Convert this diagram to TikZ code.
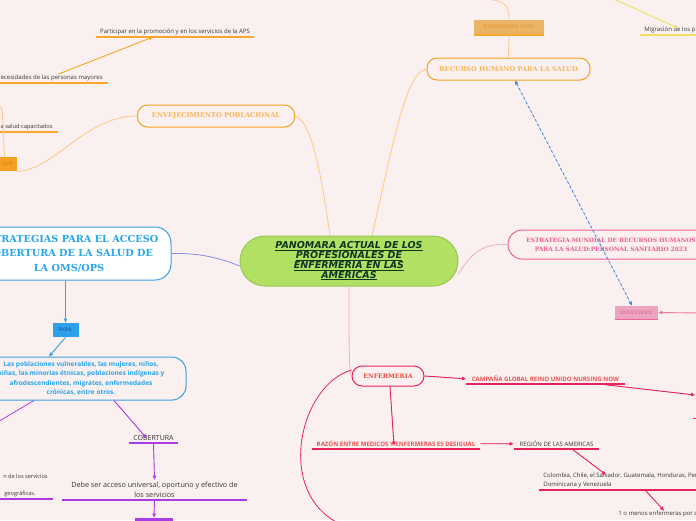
\documentclass[tikz,border=0pt]{standalone}
\usepackage{fontspec}
\setmainfont{Open Sans}
\newfontfamily\slabfont{DejaVu Serif}
\newfontfamily\headfont{DejaVu Sans}
\usetikzlibrary{arrows.meta}

\definecolor{bgc}{RGB}{250,240,240}
\definecolor{mainfill}{RGB}{178,224,98}
\definecolor{mainbd}{RGB}{150,200,85}
\definecolor{maintxt}{RGB}{12,55,30}
\definecolor{orbd}{RGB}{247,160,30}
\definecolor{ortxt}{RGB}{250,182,85}
\definecolor{orline}{RGB}{247,168,45}
\definecolor{orlight}{RGB}{255,200,135}
\definecolor{orfill}{RGB}{245,160,35}
\definecolor{ortag}{RGB}{215,120,20}
\definecolor{fundfill}{RGB}{235,180,100}
\definecolor{fundtxt}{RGB}{222,145,55}
\definecolor{bluebd}{RGB}{60,160,225}
\definecolor{bluetxt}{RGB}{40,165,235}
\definecolor{bluefill}{RGB}{45,160,235}
\definecolor{paratxt}{RGB}{20,80,130}
\definecolor{dashblue}{RGB}{70,140,230}
\definecolor{lav}{RGB}{135,140,240}
\definecolor{purp}{RGB}{170,60,230}
\definecolor{pinkbd}{RGB}{240,100,150}
\definecolor{pinktxt}{RGB}{240,95,140}
\definecolor{pinklight}{RGB}{245,170,195}
\definecolor{invfill}{RGB}{235,165,190}
\definecolor{invtxt}{RGB}{230,110,160}
\definecolor{pinkarr}{RGB}{245,120,165}
\definecolor{redbd}{RGB}{232,35,90}
\definecolor{redtxt}{RGB}{235,75,65}
\definecolor{coral}{RGB}{240,80,80}
\definecolor{leaftxt}{RGB}{55,55,55}
\definecolor{yel}{RGB}{240,225,100}

\tikzset{every picture/.style={line width=0.75pt},
  mainbox/.style={draw=mainbd, fill=mainfill, rounded corners=25pt, line width=1pt, minimum width=218pt, minimum height=50pt, align=center, text=maintxt, font=\headfont\bfseries\itshape\fontsize{9.5}{9.7}\selectfont},
  headbox/.style={draw=#1, rounded corners=10pt, line width=1pt, align=center, font=\slabfont\bfseries\fontsize{6.6}{8}\selectfont},
  tag/.style={fill=#1, inner xsep=4pt, inner ysep=3pt, font=\fontsize{5}{6}\selectfont},
  leaf/.style={inner sep=2pt, text=leaftxt, font=\fontsize{6}{8.5}\selectfont},
  arr/.style={-{Triangle[length=4pt,width=3.5pt]}, draw=#1, fill=#1, line width=0.9pt},
  link/.style={draw=#1, line width=0.8pt},
  uline/.style={draw=#1, line width=1.6pt}
}

\begin{document}
\begin{tikzpicture}[x=1pt,y=1pt,yscale=-1,xscale=1]
\useasboundingbox (0,0) rectangle (696,520);
\fill[bgc] (0,0) rectangle (696,520);

\node[mainbox] (main) at (349,261) {\underline{PANOMARA ACTUAL DE LOS}\\\underline{PROFESIONALES DE}\\\underline{ENFERMERIA EN LAS}\\\underline{AMERICAS}};

\node[leaf, minimum width=158pt, anchor=south] (aps) at (175,37) {Participar en la promoción y en los servicios de la APS};
\node[leaf, anchor=south east, inner xsep=5pt] (nec) at (108,83) {ecesidades de las personas mayores};
\node[leaf, anchor=south east, inner xsep=5pt, font=\fontsize{5.7}{8}\selectfont] (cap) at (58,132) {a salud capacitados};
\node[tag=orfill, text=ortag, anchor=east, minimum height=14pt] (gen) at (17,164) {GEN};
\node[headbox=orbd, text=ortxt, minimum width=157pt, minimum height=22pt] (env) at (216,116) {ENVEJECIMIENTO POBLACIONAL};
\node[headbox=orbd, text=ortxt, minimum width=163pt, minimum height=22pt] (rec) at (508.5,69) {RECURSO HUMANO PARA LA SALUD};
\node[tag=fundfill, text=fundtxt, minimum width=70pt, minimum height=15pt] (fund) at (509,27) {FUNDAMENTAL PARA:};
\node[leaf, anchor=south west, inner xsep=4pt] (mig) at (640,35) {Migración de los p};
\coordinate (offgen) at (-3,105);
\coordinate (offfund) at (486,-1);
\coordinate (offmig) at (614,-1);

\node[headbox=bluebd, fill=white, text=bluetxt, rounded corners=16pt, minimum width=204pt, minimum height=53pt, font=\slabfont\bfseries\fontsize{9.7}{14.5}\selectfont] (strat) at (69,253.5) {ESTRATEGIAS PARA EL ACCESO\\COBERTURA DE LA SALUD DE\\LA OMS/OPS};
\node[tag=bluefill, text=paratxt, minimum width=26pt, minimum height=14pt] (para) at (65.5,330) {PARA:};
\node[draw=bluebd, line width=1pt, rounded corners=14pt, minimum width=210pt, minimum height=43pt, align=center, text=bluetxt, font=\bfseries\fontsize{6.5}{9.3}\selectfont] (pop) at (81,378.5) {Las poblaciones vulnerables, las mujeres, niños,\\niñas, las minorías étnicas, poblaciones indígenas y\\afrodescendientes, migrates, enfermedades\\crónicas, entre otros.};
\node[leaf, minimum width=49pt, anchor=south, font=\fontsize{7}{8}\selectfont] (cob) at (153.5,443) {COBERTURA};
\node[leaf, minimum width=185pt, anchor=south, align=center, font=\fontsize{7.2}{10}\selectfont] (deb) at (154.5,500) {Debe ser acceso universal, oportuno y efectivo de\\los servicios};
\node[fill=purp, minimum width=38pt, minimum height=12pt, inner sep=0pt] (bot) at (154,524) {};
\node[leaf, anchor=south east, align=right, inner xsep=5pt, font=\fontsize{5.6}{17}\selectfont] (acc) at (53,499) {n de los servicios\\geográficas.\hspace*{12pt}};
\coordinate (offpop) at (-4,423);

\node[headbox=pinkbd, text=pinktxt, minimum width=206pt, minimum height=29pt, rounded corners=14pt, font=\slabfont\bfseries\fontsize{5.9}{9}\selectfont] (estr) at (611,244.5) {ESTRATEGIA MUNDIAL DE RECURSOS HUMANOS\\PARA LA SALUD:PERSONAL SANITARIO 2023};
\node[tag=invfill, text=invtxt, minimum width=43pt, minimum height=13pt, font=\slabfont\bfseries\fontsize{4.8}{6}\selectfont] (inv) at (636.5,312.5) {INVETIREN};
\coordinate (offinv) at (700,313);

\node[headbox=redbd, text=redtxt, minimum width=72pt, minimum height=20pt, font=\slabfont\bfseries\fontsize{6.2}{8}\selectfont] (enf) at (388,376) {ENFERMERIA};
\node[leaf, anchor=south west, minimum width=158pt, text=coral, font=\bfseries\fontsize{6.1}{7}\selectfont] (camp) at (466,384) {CAMPAÑA GLOBAL REINO UNIDO NURSING NOW};
\node[leaf, anchor=south, minimum width=168pt, text=coral, font=\bfseries\fontsize{6.1}{7}\selectfont] (raz) at (396,449) {RAZÓN ENTRE MEDICOS Y ENFERMERAS ES DESIGUAL};
\node[leaf, anchor=south, minimum width=85pt] (reg) at (556.5,449) {REGIÓN DE LAS AMERICAS};
\node[leaf, anchor=south west, align=left, inner xsep=4pt] (col) at (539,490) {Colombia, Chile, el Salvador, Guatemala, Honduras, Per\\Dominicana y Venezuela};
\node[leaf, anchor=west] (uno) at (616,514) {1 o menos enfermeras por c};
\coordinate (offenf) at (338,523);
\coordinate (offcamp) at (695,395);
\coordinate (stub) at (693,418);
\coordinate (offstub) at (697,418);

\draw[uline=orline] (aps.south west) -- (aps.south east);
\draw[uline=orline] (nec.south west) -- (nec.south east);
\draw[uline=orline] (cap.south west) -- (cap.south east);
\draw[uline=orline] (fund.south west) -- (fund.south east);
\draw[uline=yel] (mig.south west) -- (mig.south east);
\draw[uline=purp] (cob.south west) -- (cob.south east);
\draw[uline=purp] (deb.south west) -- (deb.south east);
\draw[uline=purp] (acc.south west) -- (acc.south east);
\draw[uline=pinkbd] (inv.south west) -- (inv.south east);
\draw[uline=redbd] (camp.south west) -- (camp.south east);
\draw[uline=redbd] (raz.south west) -- (raz.south east);
\draw[uline=redbd] (reg.south west) -- (reg.south east);
\draw[uline=redbd] (col.south west) -- (col.south east);

\draw[arr=orline] ([xshift=-50pt,yshift=2pt]nec.north east) -- ([xshift=-22pt]aps.south);
\draw[link=orlight] ([xshift=6.5pt]gen.north west) -- (2.5,114) .. controls (2.5,108) and (0,105) .. (offgen);
\draw[link=orlight] (gen.south east) .. controls (55,170) and (85,116) .. (env.west);
\draw[link=orlight] (env.east) .. controls (312,120) and (322,180) .. ([xshift=-19pt]main.north);
\draw[link=orlight] (rec.west) .. controls (405,72) and (392,150) .. ([xshift=23pt]main.north);
\draw[link=orlight] (fund.south) -- (rec.north);
\draw[link=orlight] (offfund) .. controls (503,1) and (509,3) .. (fund.north);
\draw[arr=yel] (offmig) -- ([xshift=38pt,yshift=4pt]mig.north west);

\draw[link=lav] ([yshift=5pt]main.west) .. controls (215,256) and (195,253) .. (strat.east);
\draw[arr=bluebd] (strat.south -| para.north) -- (para.north);
\draw[arr=bluebd] (para.south) -- ([xshift=-32pt]pop.north);
\draw[link=purp] ([xshift=-47pt]pop.south) -- (offpop);
\draw[arr=purp] ([xshift=33pt]pop.south) -- ([xshift=-7pt,yshift=5pt]cob.north);
\draw[arr=purp] (cob.south) -- (deb.north);
\draw[arr=purp] (deb.south) -- (bot.north);

\draw[link=pinklight] ([yshift=13pt]main.east) .. controls (475,246) and (490,244) .. (estr.west);
\draw[{Triangle[length=4pt,width=3.5pt]}-{Triangle[length=4pt,width=3.5pt]}, dashblue, fill=dashblue, dash pattern=on 2.5pt off 2.5pt, line width=0.9pt] ([xshift=6.5pt]rec.south) -- ([xshift=-4.5pt]inv.north);
\draw[arr=pinkarr] (offinv) -- (inv.east);
\draw[link=pinklight] (main.south) .. controls (349,350) and (349,372) .. (enf.west);

\draw[link=redbd] ([yshift=-6pt]enf.west) .. controls (300,385) and (275,490) .. (offenf);
\draw[arr=redbd] (enf.east) -- (camp.west);
\draw[arr=redbd] ([xshift=133pt]camp.south west) -- (offcamp);
\draw[link=redbd] (stub) -- (offstub);
\draw[arr=redbd] ([xshift=2pt]enf.south) -- ([xshift=-2pt,yshift=7pt]raz.north);
\draw[arr=redbd] (raz.east) -- (reg.west);
\draw[arr=redbd] ([xshift=15.5pt]reg.south) -- ([xshift=67pt,yshift=4pt]col.north west);
\draw[arr=redbd] ([xshift=106pt]col.south west) -- ([xshift=48pt,yshift=2pt]uno.north west);
\end{tikzpicture}
\end{document}
